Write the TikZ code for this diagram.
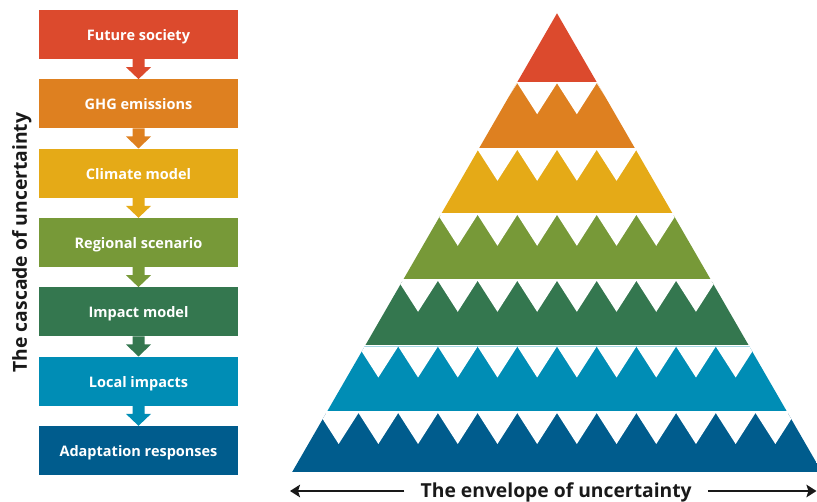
\documentclass[tikz,border=0pt]{standalone}
\usepackage{fontspec}
\setmainfont{Open Sans}
\usetikzlibrary{arrows.meta,calc}
\definecolor{rot}{RGB}{220,74,45}
\definecolor{orangeton}{RGB}{222,128,32}
\definecolor{gelb}{RGB}{229,170,23}
\definecolor{gruen}{RGB}{119,153,56}
\definecolor{dunkelgruen}{RGB}{52,119,79}
\definecolor{tuerkis}{RGB}{0,141,181}
\definecolor{blau}{RGB}{0,92,141}
\tikzstyle{stage} = [rectangle, minimum width=199pt, minimum height=49pt, inner sep=0pt, text=white, text height=12.4pt, text depth=0pt, font=\fontsize{14.5}{17}\selectfont\bfseries]
\tikzstyle{caption} = [font=\fontsize{19.3}{22}\selectfont\bfseries, text=black!90]
\tikzstyle{envelope} = [line width=2.2pt, draw=black!90, -{Stealth[length=10pt,width=12.5pt,inset=2pt]}]

\begin{document}
\begin{tikzpicture}[x=1pt,y=-1pt]
\clip (0,0) rectangle (817,502);

% cascade
\node[stage, fill=rot] (FS) at (138.5,34.5) {Future society};
\node[stage, fill=orangeton] (GHG) at (138.5,103.8) {GHG emissions};
\node[stage, fill=gelb] (CM) at (138.5,173.2) {Climate model};
\node[stage, fill=gruen] (RS) at (138.5,242.5) {Regional scenario};
\node[stage, fill=dunkelgruen] (IM) at (138.5,311.8) {Impact model};
\node[stage, fill=tuerkis] (LI) at (138.5,381.2) {Local impacts};
\node[stage, fill=blau] (AR) at (138.5,450.5) {Adaptation responses};

\foreach \a/\b/\farbe in {FS/GHG/rot, GHG/CM/orangeton, CM/RS/gelb, RS/IM/gruen, IM/LI/dunkelgruen, LI/AR/tuerkis}
  \fill[\farbe] ($(\a.south)+(-6,0)$) -- ($(\a.south)+(-6,8)$) -- ($(\a.south)+(-12.5,8)$) -- (\b.north)
    -- ($(\a.south)+(12.5,8)$) -- ($(\a.south)+(6,8)$) -- ($(\a.south)+(6,0)$) -- cycle;

\node[caption, rotate=90, anchor=base] (CAS) at (27,242.5) {The cascade of uncertainty};

% envelope
\begin{scope}
\clip (557,13.3) -- (292,472.3) -- (822,472.3) -- cycle;
\foreach \farbe/\oben/\unten in {rot/13.3/81.7, orangeton/83.2/148.3, gelb/149.8/213.3, gruen/214.8/279.3, dunkelgruen/280.8/345, tuerkis/346.5/411.5, blau/413/472.3}
  \fill[\farbe] (280,\oben) rectangle (830,\unten);
\foreach \oben in {83.2,149.8,214.8,280.8,346.5,413}
  \foreach \j in {-7,...,6}
    \fill[white] (557+\j*39.7,\oben) -- ++(39.7,0) -- ++(-19.85,31) -- cycle;
\end{scope}

\node[caption, anchor=base, inner xsep=16pt] (ENV) at (556.2,497) {The envelope of uncertainty};
\coordinate (EL) at (290,491);
\coordinate (ER) at (816.5,491);
\draw[envelope] (ENV.west |- EL) -- (EL);
\draw[envelope] (ENV.east |- ER) -- (ER);
\end{tikzpicture}
\end{document}
